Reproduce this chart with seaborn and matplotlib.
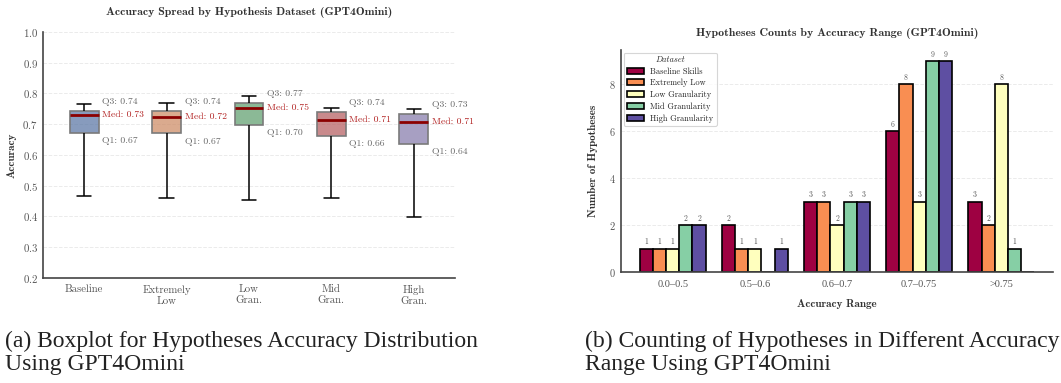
import numpy as np
import pandas as pd
import matplotlib
import matplotlib.pyplot as plt
import seaborn as sns

# ===== data: boxplot (min, Q1, median, Q3, max) =====
datasets = ['Baseline', 'Extremely\nLow', 'Low\nGran.', 'Mid\nGran.', 'High\nGran.']
baseline_acc = [0.467, 0.673, 0.731, 0.744, 0.767]
extremely_low_acc = [0.460, 0.671, 0.724, 0.743, 0.769]
low_gran_acc = [0.454, 0.698, 0.752, 0.768, 0.791]
mid_gran_acc = [0.460, 0.662, 0.713, 0.740, 0.752]
high_gran_acc = [0.399, 0.637, 0.708, 0.732, 0.749]

# ===== data: counts per accuracy range =====
acc_ranges = ['0.0–0.5', '0.5–0.6', '0.6–0.7', '0.7–0.75', '>0.75']
legend_names = ['Baseline Skills', 'Extremely Low', 'Low Granularity',
                'Mid Granularity', 'High Granularity']
baseline_counts = [1, 2, 3, 6, 3]
extremely_low_counts = [1, 1, 3, 8, 2]
low_gran_counts = [1, 1, 2, 3, 8]
mid_gran_counts = [2, 0, 3, 9, 1]
high_gran_counts = [2, 1, 3, 9, 0]

# ===== style =====
sns.set_style('white')
plt.rcParams['font.family'] = 'serif'
plt.rcParams['font.serif'] = ['cmr10', 'DejaVu Serif']
plt.rcParams['axes.formatter.use_mathtext'] = True
plt.rcParams['axes.unicode_minus'] = False
BOLD = ['cmb10', 'DejaVu Serif']
TICK_C = '#555555'
GRID_C = '#ebebeb'

fig = plt.figure(figsize=(10.61, 3.83), dpi=100)
ax1 = fig.add_axes([0.0405, 0.2742, 0.3883, 0.6423])
ax2 = fig.add_axes([0.5853, 0.2898, 0.4072, 0.5796])

# ----- (a) boxplot -----
acc_lists = [baseline_acc, extremely_low_acc, low_gran_acc, mid_gran_acc, high_gran_acc]
box_df = pd.DataFrame({
    'Dataset': np.repeat(datasets, [len(v) for v in acc_lists]),
    'Accuracy': np.concatenate(acc_lists),
})
sns.boxplot(data=box_df, x='Dataset', y='Accuracy', hue='Dataset', palette='deep',
            width=0.35, whis=(0, 100), showfliers=False, linecolor='#7a7a7a', linewidth=1.2,
            medianprops=dict(color='#8b0000', linewidth=2),
            whiskerprops=dict(color='black', linewidth=1.1),
            capprops=dict(color='black', linewidth=1.1),
            legend=False, ax=ax1)
for p in ax1.patches:
    r, g, b, _ = p.get_facecolor()
    p.set_facecolor((r, g, b, 0.72))

for i, vals in enumerate(acc_lists):
    q1, med, q3 = np.percentile(vals, [25, 50, 75])
    ax1.text(i + 0.22, q3 + 0.03, f'Q3: {q3:.2f}', fontsize=7, color='#666666', va='center')
    ax1.text(i + 0.22, med, f'Med: {med:.2f}', fontsize=7, color='#b22222', va='center')
    ax1.text(i + 0.22, q1 - 0.027, f'Q1: {q1:.2f}', fontsize=7, color='#666666', va='center')

ax1.set_ylim(0.2, 1.0)
ax1.set_yticks(np.arange(0.2, 1.01, 0.1))
ax1.set_xlim(-0.5, 4.5)
ax1.set_xlabel('')
ax1.set_ylabel('Accuracy', fontsize=8, family=BOLD, color='#333333')
ax1.set_title('Accuracy Spread by Hypothesis Dataset (GPT4Omini)', fontsize=8.5,
              family=BOLD, color='#333333', pad=12)
ax1.yaxis.grid(True, linestyle='--', color=GRID_C, linewidth=0.7)
ax1.tick_params(axis='both', labelsize=7.8, colors=TICK_C, length=0)
ax1.tick_params(axis='x', pad=5)

# ----- (b) grouped bars -----
count_lists = [baseline_counts, extremely_low_counts, low_gran_counts,
               mid_gran_counts, high_gran_counts]
bar_df = pd.DataFrame({
    'Range': np.tile(acc_ranges, len(legend_names)),
    'Dataset': np.repeat(legend_names, len(acc_ranges)),
    'Count': np.concatenate(count_lists),
})
cmap = matplotlib.colormaps['Spectral']
spectral = [cmap(t) for t in np.linspace(0, 1, 5)]
sns.barplot(data=bar_df, x='Range', y='Count', hue='Dataset', palette=spectral,
            saturation=1, edgecolor='black', linewidth=1.2, width=0.8, ax=ax2)
for cont in ax2.containers:
    labels = [str(int(v)) if v > 0 else '' for v in cont.datavalues]
    ax2.bar_label(cont, labels=labels, fontsize=5.5, color='#555555', padding=1.5)

ax2.set_xlim(-0.63, 4.63)
ax2.set_ylim(0, 9.45)
ax2.set_yticks([0, 2, 4, 6, 8])
ax2.set_xlabel('Accuracy Range', fontsize=8, family=BOLD, color='#333333', labelpad=7)
ax2.set_ylabel('Number of Hypotheses', fontsize=8, family=BOLD, color='#333333', labelpad=8)
ax2.set_title('Hypotheses Counts by Accuracy Range (GPT4Omini)', fontsize=8.5,
              family=BOLD, color='#333333', pad=10)
ax2.yaxis.grid(True, linestyle='--', color=GRID_C, linewidth=0.7)
ax2.set_axisbelow(True)
ax2.tick_params(axis='both', labelsize=7.5, colors=TICK_C, length=0)
ax2.tick_params(axis='x', pad=6)
# cmr10 has no en dash / '>' glyph, draw the range labels with a Times-like face
for lab in ax2.get_xticklabels():
    lab.set_family(['Liberation Serif', 'DejaVu Serif'])
    lab.set_fontsize(7.5)
leg = ax2.legend(title='Dataset', loc='upper left', fontsize=6, frameon=True,
                 edgecolor='#cccccc', borderaxespad=0.3, labelspacing=0.4,
                 title_fontproperties={'family': ['cmmi10', 'DejaVu Serif'], 'size': 6})
leg.get_frame().set_linewidth(0.8)

for ax in (ax1, ax2):
    sns.despine(ax=ax)
    for s in ('left', 'bottom'):
        ax.spines[s].set_color('#444444')
        ax.spines[s].set_linewidth(1.2)

# ----- captions -----
cap = ['Liberation Serif', 'DejaVu Serif']
fig.text(0.005, 0.078, '(a) Boxplot for Hypotheses Accuracy Distribution\nUsing GPT4Omini',
         fontsize=17, family=cap, va='center', linespacing=1.1, color='#222222')
fig.text(0.551, 0.078, '(b) Counting of Hypotheses in Different Accuracy\nRange Using GPT4Omini',
         fontsize=17, family=cap, va='center', linespacing=1.1, color='#222222')

fig.savefig('out.png', dpi=100)
